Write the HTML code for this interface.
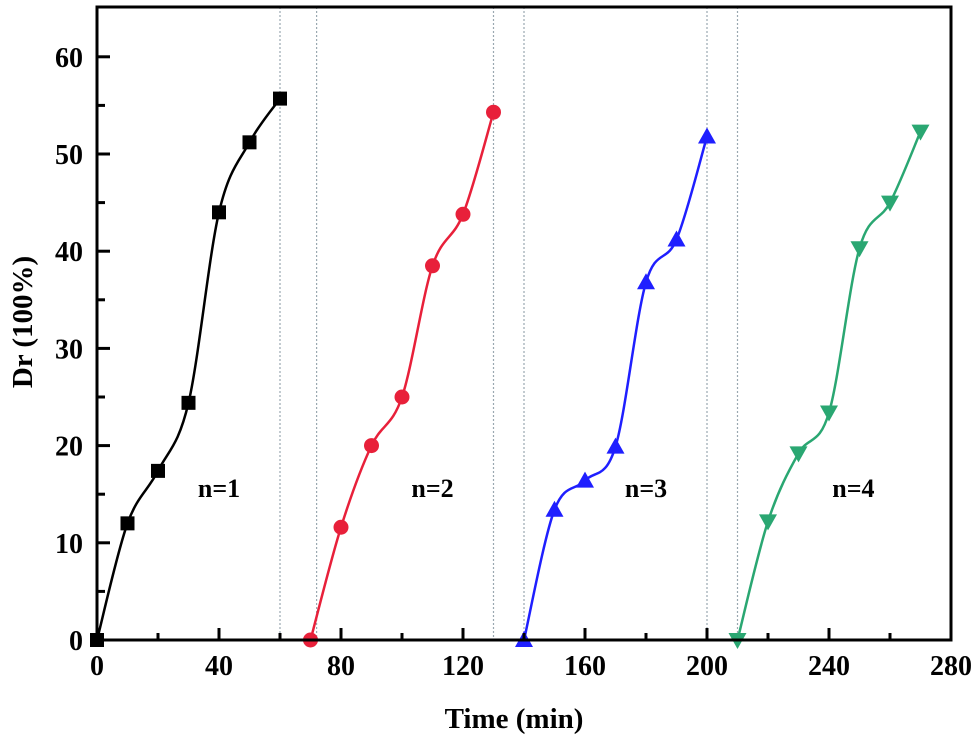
<!DOCTYPE html>
<html><head><meta charset="utf-8"><style>
html,body{margin:0;padding:0;background:#fff;}
svg{display:block;font-family:"Liberation Serif",serif;font-weight:bold;}
</style></head><body>
<svg id="chart" width="980" height="749" viewBox="0 0 980 749" xmlns="http://www.w3.org/2000/svg">
<g id="grid"></g>
<g id="series"></g>
<rect x="97" y="7" width="854" height="633" fill="none" stroke="#000" stroke-width="3"/>
<g id="axes"></g>
<text x="514" y="728" font-size="29" text-anchor="middle">Time (min)</text>
<text transform="translate(32,322) rotate(-90)" font-size="29" text-anchor="middle">Dr (100%)</text>
</svg>
<script>
const xTicks=[0,40,80,120,160,200,240,280];
const yTicks=[0,10,20,30,40,50,60];
const sepLines=[60,72,130,140,200,210];
const seriesNames=["n=1","n=2","n=3","n=4"];
const seriesX=[[0,10,20,30,40,50,60],[70,80,90,100,110,120,130],[140,150,160,170,180,190,200],[210,220,230,240,250,260,270]];
const seriesY=[[0,12,17.4,24.4,44,51.2,55.7],[0,11.6,20,25,38.5,43.8,54.3],[0,13.4,16.4,19.9,36.8,41.2,51.8],[0,12.2,19.2,23.4,40.3,45,52.3]];
const labelX=[40,110,180,248];
const labelY=[14.7,14.7,14.7,14.7];
const colors=["#000","#e8203a","#1f1fff","#2aa772"];
const markers=["square","circle","triangle","itriangle"];
const NS="http://www.w3.org/2000/svg";
const X=v=>97+v*(854/280), Y=v=>640-v*9.72;
function mk(t,a,p){const e=document.createElementNS(NS,t);for(const k in a)e.setAttribute(k,a[k]);p.appendChild(e);return e;}
const grid=document.getElementById('grid'),ser=document.getElementById('series'),ax=document.getElementById('axes');
sepLines.forEach(v=>{const l=mk('line',{x1:X(v),x2:X(v),y1:7,y2:640,stroke:'#9aa8b0','stroke-width':1.2,'stroke-dasharray':'2,2'},grid);

});
xTicks.forEach((v,i)=>{const l=mk('line',{x1:X(v),x2:X(v),y1:640,y2:628,stroke:'#000','stroke-width':3},ax);


if(i<xTicks.length-1){const m=mk('line',{x1:X(v+20),x2:X(v+20),y1:640,y2:633,stroke:'#000','stroke-width':3},ax);

}
const t=mk('text',{x:X(v),y:675,'font-size':28,'text-anchor':'middle'},ax);t.textContent=v;

});
yTicks.forEach((v,i)=>{const l=mk('line',{x1:97,x2:110,y1:Y(v),y2:Y(v),stroke:'#000','stroke-width':3},ax);


if(i<yTicks.length-1){const m=mk('line',{x1:97,x2:105,y1:Y(v+5),y2:Y(v+5),stroke:'#000','stroke-width':3},ax);

}
const t=mk('text',{x:83,y:Y(v)+10,'font-size':28,'text-anchor':'end'},ax);t.textContent=v;

});
function spline(p){let d=`M${p[0][0]},${p[0][1]}`;for(let i=0;i<p.length-1;i++){const p0=p[Math.max(0,i-1)],p1=p[i],p2=p[i+1],p3=p[Math.min(p.length-1,i+2)];
const c1=[p1[0]+(p2[0]-p0[0])/6,p1[1]+(p2[1]-p0[1])/6],c2=[p2[0]-(p3[0]-p1[0])/6,p2[1]-(p3[1]-p1[1])/6];
d+=`C${c1[0]},${c1[1]} ${c2[0]},${c2[1]} ${p2[0]},${p2[1]}`;}return d;}
seriesX.forEach((xs,s)=>{const pts=xs.map((x,i)=>[X(x),Y(seriesY[s][i])]);
const p=mk('path',{d:spline(pts),fill:'none',stroke:colors[s],'stroke-width':2.5},ser);


pts.forEach(([px,py])=>{let m;const c=colors[s];
if(markers[s]==='square')m=mk('rect',{x:px-7,y:py-7,width:14,height:14,fill:c},ser);
else if(markers[s]==='circle')m=mk('circle',{cx:px,cy:py,r:7.5,fill:c},ser);
else if(markers[s]==='triangle')m=mk('polygon',{points:`${px},${py-9} ${px-9},${py+7} ${px+9},${py+7}`,fill:c},ser);
else m=mk('polygon',{points:`${px},${py+9} ${px-9},${py-7} ${px+9},${py-7}`,fill:c},ser);

});
const t=mk('text',{x:X(labelX[s]),y:Y(labelY[s]),'font-size':26,'text-anchor':'middle'},ser);t.textContent=seriesNames[s];

});
</script>
</body></html>
